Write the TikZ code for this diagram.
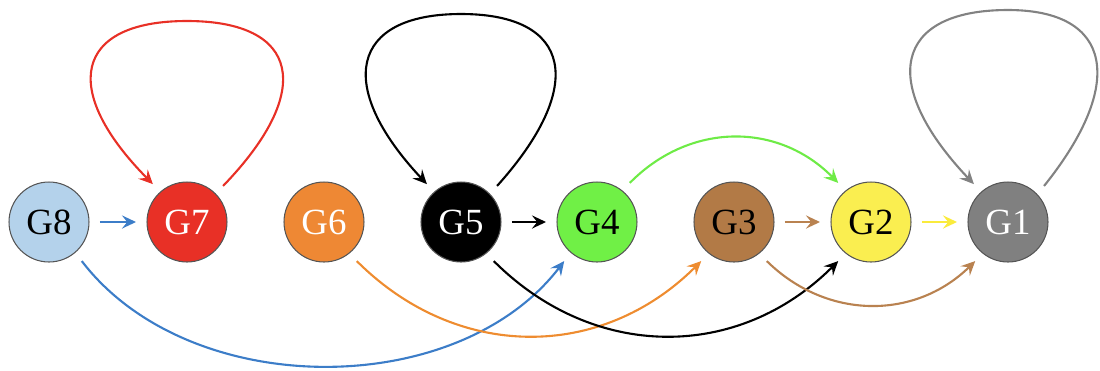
\documentclass[tikz,border=0pt]{standalone}
\usepackage{fontspec}
\setmainfont{Liberation Serif}
\usetikzlibrary{arrows.meta,calc}

% node fills
\definecolor{fillA}{RGB}{128,128,128}
\definecolor{fillB}{RGB}{250,238,80}
\definecolor{fillC}{RGB}{178,122,70}
\definecolor{fillD}{RGB}{112,240,70}
\definecolor{fillE}{RGB}{0,0,0}
\definecolor{fillF}{RGB}{238,136,52}
\definecolor{fillG}{RGB}{232,48,38}
\definecolor{fillH}{RGB}{180,210,235}
\definecolor{nodeedge}{RGB}{85,85,85}
% connector colours
\definecolor{arrBlue}{RGB}{60,125,200}
\definecolor{arrRed}{RGB}{232,48,38}
\definecolor{arrOrange}{RGB}{238,140,48}
\definecolor{arrBlack}{RGB}{0,0,0}
\definecolor{arrGreen}{RGB}{110,235,70}
\definecolor{arrBrown}{RGB}{185,130,80}
\definecolor{arrYellow}{RGB}{250,235,60}
\definecolor{arrGray}{RGB}{130,130,130}

\begin{document}
\begin{tikzpicture}[x=0.02cm,y=-0.02cm,
  state/.style={circle, draw=nodeedge, line width=0.6pt, minimum size=1.6cm,
    inner sep=0pt, outer sep=0.22cm, font=\fontsize{21}{21}\selectfont},
  link/.style={line width=1.2pt, -{Stealth[length=8pt,width=7.5pt,inset=3pt]}},
]
\useasboundingbox (0,0) rectangle (1100,370);

% states
\node[state, fill=fillH, text=black] (g8) at (49,222)   {G8};
\node[state, fill=fillG, text=white] (g7) at (187,222)  {G7};
\node[state, fill=fillF, text=white] (g6) at (324,222)  {G6};
\node[state, fill=fillE, text=white] (g5) at (461,222)  {G5};
\node[state, fill=fillD, text=black] (g4) at (597,222)  {G4};
\node[state, fill=fillC, text=black] (g3) at (734,222)  {G3};
\node[state, fill=fillB, text=black] (g2) at (871,222)  {G2};
\node[state, fill=fillA, text=white] (g1) at (1008,222) {G1};

% tops of the self loops
\coordinate (t7) at ($(g7)+(0,-201)$);
\coordinate (t5) at ($(g5)+(0,-208)$);
\coordinate (t1) at ($(g1)+(0,-212)$);

% neighbour transitions
\draw[link, arrBlue]   (g8) -- (g7);
\draw[link, arrBlack]  (g5) -- (g4);
\draw[link, arrBrown]  (g3) -- (g2);
\draw[link, arrYellow] (g2) -- (g1);

% self loops
\draw[link, arrRed] (g7.45) .. controls +(92,-95) and +(113,0) .. (t7)
  .. controls +(-113,0) and +(-93,-94) .. (g7.132);
\draw[link, arrBlack] (g5.45) .. controls +(90,-100) and +(111,0) .. (t5)
  .. controls +(-111,0) and +(-92,-98) .. (g5.132);
\draw[link, arrGray] (g1.45) .. controls +(82,-102) and +(105,0) .. (t1)
  .. controls +(-115,0) and +(-95,-100) .. (g1.132);

% long jumps
\draw[link, arrBlue]   (g8.-50) .. controls +(107,140) and +(-107,140) .. (g4.-130);
\draw[link, arrOrange] (g6.-50) .. controls +(100,100) and +(-100,100) .. (g3.-130);
\draw[link, arrBlack]  (g5.-50) .. controls +(100,100) and +(-100,100) .. (g2.-130);
\draw[link, arrBrown]  (g3.-50) .. controls +(60,59) and +(-60,59) .. (g1.-130);
\draw[link, arrGreen]  (g4.50) .. controls +(60,-61) and +(-60,-61) .. (g2.130);
\end{tikzpicture}
\end{document}
